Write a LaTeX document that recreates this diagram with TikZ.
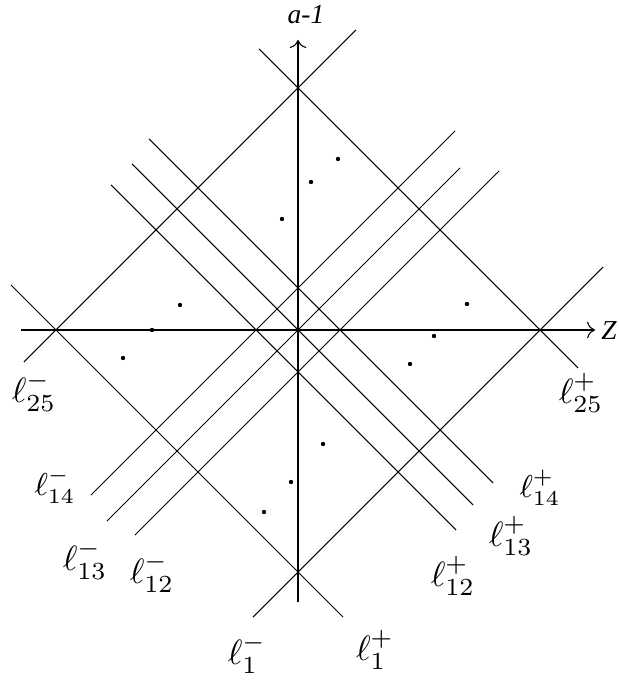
\documentclass[tikz,border=0pt]{standalone}
\usepackage{amsmath,amssymb}
\usepackage{fontspec}
\newfontfamily\timesfont{Liberation Serif}
\usetikzlibrary{arrows.meta}

\begin{document}
\begin{tikzpicture}[
  x=1mm,y=1mm,
  >=To,
  line/.style={line width=0.3pt},
  lbl/.style={inner sep=0pt},
  axlbl/.style={font=\timesfont\itshape\fontsize{7.8}{9}\selectfont,inner sep=0pt},
]

% Page frame
\useasboundingbox (-29.8,-35.2) rectangle (32.0,33.0);

% Axes
\draw[->,line] (-27.7,0) -- (29.7,0);
\draw[->,line] (0,-27.2) -- (0,29.0);
\node[axlbl] (zlabel) at (31.1,-0.1) {Z};
\node[axlbl] (alabel) at (0.8,31.5) {a-1};

% Outer lines (the big diamond)
\draw[line] (-27.4,-3.2) -- (5.8,30.0);
\draw[line] (-3.9,28.1) -- (28.0,-3.8);
\draw[line] (-4.5,-28.7) -- (30.5,6.3);
\draw[line] (-28.7,4.5) -- (4.5,-28.7);

% Inner lines, slope +1
\draw[line] (-20.7,-16.5) -- (15.7,19.9);
\draw[line] (-19.1,-19.1) -- (16.2,16.2);
\draw[line] (-16.3,-20.5) -- (20.1,15.9);

% Inner lines, slope -1
\draw[line] (-14.9,19.1) -- (19.5,-15.3);
\draw[line] (-16.6,16.6) -- (17.5,-17.5);
\draw[line] (-18.7,14.5) -- (15.8,-20.0);

% Points
\foreach \px/\py in {4.0/17.1, 1.3/14.8, -1.6/11.1,
                     -11.8/2.5, -14.6/0, -17.5/-2.8,
                     16.9/2.6, 13.6/-0.6, 11.2/-3.4,
                     2.5/-11.4, -0.7/-15.2, -3.4/-18.2}
  \fill (\px,\py) circle (0.22);

% Line labels
\node[lbl] (l25m) at (-26.4,-6.2) {$\ell_{25}^-$};
\node[lbl] (l25p) at (28.3,-6.3)  {$\ell_{25}^+$};
\node[lbl,font=\small] (l14m) at (-24.3,-15.6) {$\ell_{14}^-$};
\node[lbl,font=\small] (l14p) at (24.2,-15.8)  {$\ell_{14}^+$};
\node[lbl] (l13m) at (-21.3,-23.0) {$\ell_{13}^-$};
\node[lbl] (l13p) at (21.3,-20.6)  {$\ell_{13}^+$};
\node[lbl] (l12m) at (-14.6,-24.3) {$\ell_{12}^-$};
\node[lbl] (l12p) at (15.5,-24.6)  {$\ell_{12}^+$};
\node[lbl] (l1m) at (-5.1,-32.4) {$\ell_1^-$};
\node[lbl] (l1p) at (7.7,-32.0)  {$\ell_1^+$};

\end{tikzpicture}
\end{document}
